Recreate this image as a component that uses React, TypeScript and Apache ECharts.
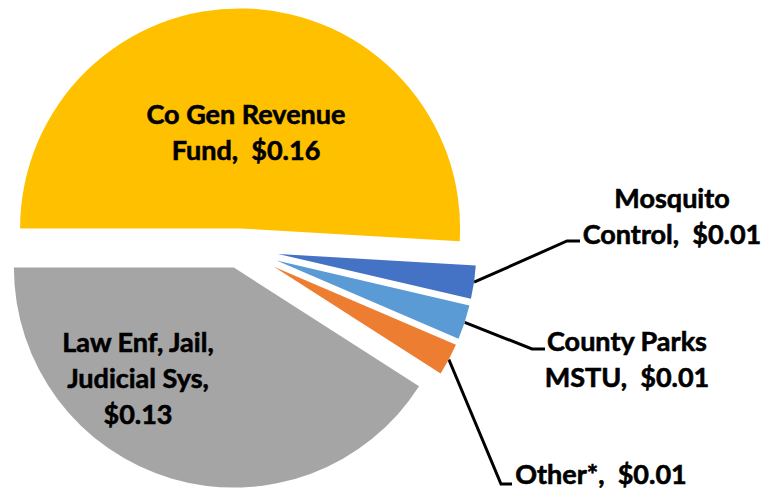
import { useEffect, useRef } from 'react';
import * as echarts from 'echarts';

const categories = ['Co Gen Revenue Fund', 'Mosquito Control', 'County Parks MSTU', 'Other*', 'Law Enf, Jail, Judicial Sys'];
const labelTexts = ['Co Gen Revenue\nFund,  ', 'Mosquito\nControl,  ', 'County Parks\nMSTU,  ', 'Other*,  ', 'Law Enf, Jail,\nJudicial Sys,\n'];
const values = [0.163, 0.0087, 0.009, 0.0084, 0.131];
const colors = ['#FFC000', '#4472C4', '#5B9BD5', '#ED7D31', '#A5A5A5'];
const isBig = [true, false, false, false, true];

// layout only
const CENTER = [239.5, 248.4];
const START_ANGLE = 180;
const LABEL_POS: Record<number, { x: number; y: number; elbow?: number[]; end?: number[] }> = {
  0: { x: 246, y: 131 },
  1: { x: 672, y: 215, elbow: [567, 241], end: [580, 241] },
  2: { x: 627, y: 358, elbow: [532, 349], end: [545, 349] },
  3: { x: 601, y: 473, elbow: [501, 484], end: [512, 484] },
  4: { x: 138, y: 377 },
};

const FONT = {
  fontFamily: 'Lato',
  fontWeight: 'bold' as const,
  fontSize: 27,
  lineHeight: 36,
  color: '#000',
  textBorderColor: '#000',
  textBorderWidth: 0.6,
};

function sliceSeries(k: number) {
  const total = values.reduce((a, b) => a + b, 0);
  const before = values.slice(0, k).reduce((a, b) => a + b, 0);
  const mid = ((START_ANGLE - ((before + values[k] / 2) / total) * 360) * Math.PI) / 180;
  const big = isBig[k];
  const off = big ? 20 : 39;
  const center = [CENTER[0] + off * Math.cos(mid), CENTER[1] - off * Math.sin(mid)];
  return {
    type: 'pie',
    center,
    radius: big ? 220 : 198,
    startAngle: START_ANGLE,
    clockwise: true,
    avoidLabelOverlap: false,
    silent: true,
    emphasis: { disabled: true },
    labelLayout: (params: any) => {
      if (params.dataIndex !== k) return {};
      const p = LABEL_POS[k];
      const res: any = { x: p.x, y: p.y, align: 'center', verticalAlign: 'middle', hideOverlap: false };
      if (p.elbow && params.labelLinePoints) {
        res.labelLinePoints = [params.labelLinePoints[0], p.elbow, p.end];
      }
      return res;
    },
    data: categories.map((name, i) => {
      const mine = i === k;
      return {
        name,
        value: values[i],
        itemStyle: { color: mine ? colors[i] : 'transparent', borderWidth: 0 },
        label: {
          show: mine,
          position: big ? 'inside' : 'outside',
          formatter: () => labelTexts[i] + '$' + values[i].toFixed(2),
          ...FONT,
          lineHeight: labelTexts[i].includes('\n') ? 36 : 26,
          align: 'center',
        },
        labelLine: {
          show: mine && !big,
          length: 20,
          length2: 10,
          smooth: false,
          lineStyle: { color: '#000', width: 3 },
        },
      };
    }),
  };
}

export default function App() {
  const ref = useRef<HTMLDivElement>(null);
  useEffect(() => {
    if (!ref.current) return;
    const chart = echarts.init(ref.current, undefined, { renderer: 'svg' });
    chart.setOption({
      animation: false,
      backgroundColor: '#fff',
      series: categories.map((_, k) => sliceSeries(k)),
    });
    return () => chart.dispose();
  }, []);
  return <div ref={ref} style={{ position: 'fixed', left: 0, top: 0, width: 765, height: 489 }} />;
}
